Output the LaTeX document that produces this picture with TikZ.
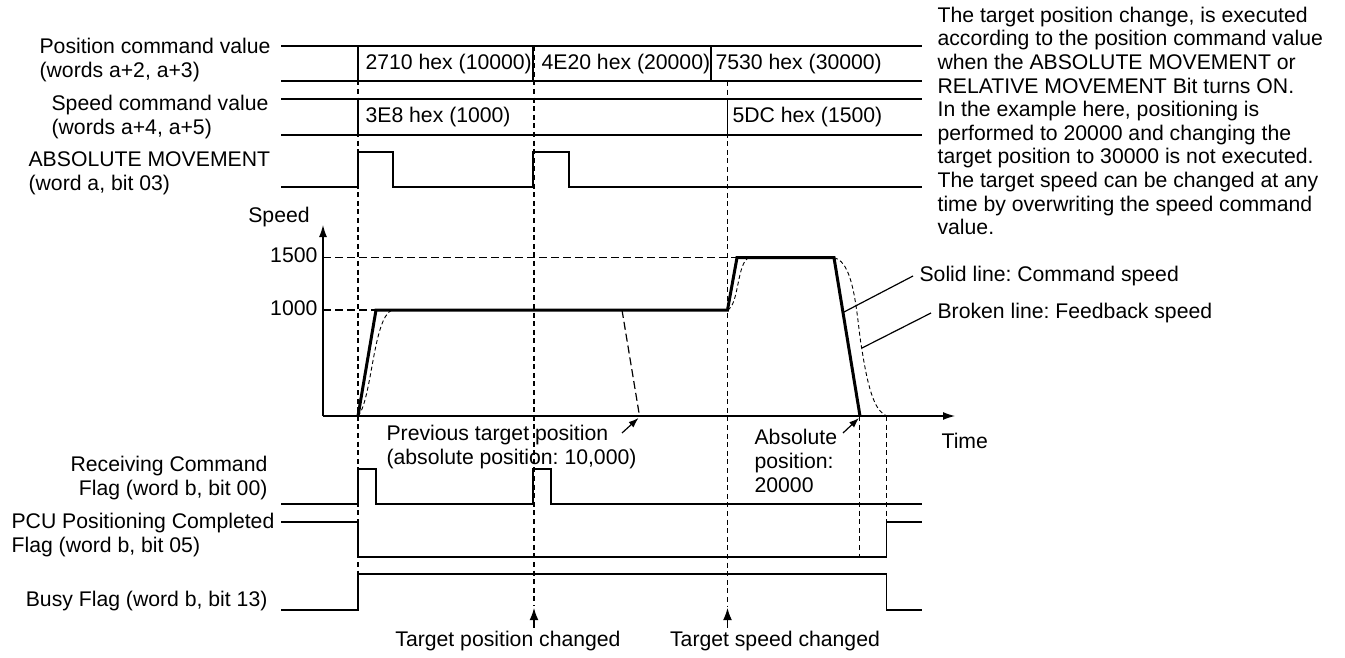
\documentclass[tikz,border=0pt]{standalone}
\usepackage{fontspec}
\setmainfont{Liberation Sans}
\usetikzlibrary{arrows.meta}
\frenchspacing
\begin{document}
\begin{tikzpicture}[x=0.5pt, y=-0.5pt, line width=0.6pt, >={Latex[length=6pt,width=4pt]},
    font=\fontsize{10.6}{11.8}\selectfont, every node/.style={inner sep=0pt},
    guide/.style={dash pattern=on 2.5pt off 1.8pt},
    level/.style={dash pattern=on 4pt off 2pt},
    fbk/.style={line width=0.45pt, dash pattern=on 2pt off 1.4pt},
    cmd/.style={line width=1.5pt},
    lbl/.style={align=left, anchor=west},
    small/.style={-{Latex[length=5pt,width=3.6pt]}},
    change/.style={-{Latex[length=6pt,width=4.4pt]}}]
\useasboundingbox (0,0) rectangle (1345,658);
% signal names
\node[lbl] (poslbl) at (39,60) {Position command value\\(words a+2, a+3)};
\node[lbl] (spdlbl) at (51,117) {Speed command value\\(words a+4, a+5)};
\node[lbl] (abslbl) at (28,173) {ABSOLUTE MOVEMENT\\(word a, bit 03)};
\node[align=right, anchor=east] (rcvlbl) at (268,478) {Receiving Command\\Flag (word b, bit 00)};
\node[lbl] (pculbl) at (11,535) {PCU Positioning Completed\\Flag (word b, bit 05)};
\node[anchor=east] (busylbl) at (268,601) {Busy Flag (word b, bit 13)};
\node[lbl] (note) at (937,121) {The target position change, is executed\\according to the position command value\\when the ABSOLUTE MOVEMENT or\\RELATIVE MOVEMENT Bit turns ON.\\In the example here, positioning is\\performed to 20000 and changing the\\target position to 30000 is not executed.\\The target speed can be changed at any\\time by overwriting the speed command\\value.};
% guide lines
\draw[guide] (358,46)--(358,574);
\draw[guide] (534,46)--(534,606);
\draw[guide] (727.5,81)--(727.5,606);
\draw[guide] (859.5,416)--(859.5,557);
\draw[guide] (886.5,416)--(886.5,557);
% command values
\draw (281,46)--(922,46) (281,81)--(922,81);
\draw (358,46)--(358,81) (533,46)--(533,81) (711,46)--(711,81);
\node[anchor=west] (pv1) at (365,64) {2710 hex (10000)};
\node[anchor=west] (pv2) at (541,64) {4E20 hex (20000)};
\node[anchor=west] (pv3) at (715,64) {7530 hex (30000)};
\draw (281,99)--(922,99) (281,135)--(922,135);
\draw (358,99)--(358,135) (727.5,99)--(727.5,135);
\node[anchor=west] (sv1) at (365,117) {3E8 hex (1000)};
\node[anchor=west] (sv2) at (732,117) {5DC hex (1500)};
\draw (281,187)--(358,187)--(358,152)--(393,152)--(393,187)--(533,187)--(533,152)--(569,152)--(569,187)--(922,187);
% speed graph
\coordinate (org) at (323,416);
\draw[->] (org)--(323,225);
\draw[->] (org)--(955,416);
\node (spdax) at (279,217) {Speed};
\node[anchor=east] (v1500) at (318,255) {1500};
\node[anchor=east] (v1000) at (318,308) {1000};
\node[anchor=west] (time) at (941,441) {Time};
\draw[level] (org |- 0,257.7)--(737,257.7);
\draw[level] (org |- 0,310)--(376,310);
\draw[level] (622,310)--(639.5,416);
\draw[fbk] (358,416) .. controls (372,400) and (373,318) .. (392,310);
\draw[fbk] (727.5,310) .. controls (739,305) and (737,262) .. (749,257.7);
\draw[fbk] (834,257.7) .. controls (856,262) and (857,325) .. (862,350) .. controls (869,395) and (876,411) .. (886.5,416);
\draw[cmd] (358,416)--(376,310)--(727.5,310)--(737,257.7)--(834,257.7)--(860,416);
\node[anchor=west] (solidlbl) at (919,276) {Solid line: Command speed};
\node[anchor=west] (brokenlbl) at (937,313) {Broken line: Feedback speed};
\draw (844,312)--([xshift=-3pt]solidlbl.west);
\draw (862,348)--([xshift=-3pt]brokenlbl.west);
\node[lbl] (prevlbl) at (386,447) {Previous target position\\(absolute position: 10,000)};
\node[lbl] (abspos) at (754,461) {Absolute\\position:\\20000};
\coordinate (prevend) at (638.5,418);
\coordinate (absend) at (859,418);
\draw[small] (622,433)--(prevend);
\draw[small] (843,433)--(absend);
% flags
\draw (281,504)--(358,504)--(358,469)--(376,469)--(376,504)--(533,504)--(533,469)--(551,469)--(551,504)--(922,504);
\draw (281,522)--(358,522)--(358,557)--(886.5,557)--(886.5,522)--(922,522);
\draw (281,610)--(358,610)--(358,574)--(886.5,574)--(886.5,610)--(922,610);
% changes
\node (tpc) at (508,641) {Target position changed};
\node (tsc) at (775,641) {Target speed changed};
\coordinate (tpos) at (534,608);
\coordinate (tspd) at (727.5,608);
\draw[change] ([yshift=1.5pt]tpc.north -| tpos)--(tpos);
\draw[change] ([yshift=1.5pt]tsc.north -| tspd)--(tspd);
\end{tikzpicture}
\end{document}
